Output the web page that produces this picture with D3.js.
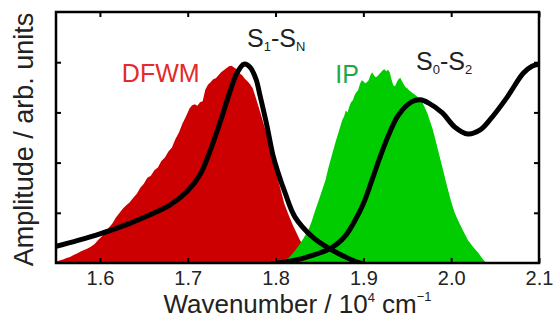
<!DOCTYPE html>
<html>
<head>
<meta charset="utf-8">
<script src="https://cdn.jsdelivr.net/npm/d3@7"></script>
<style>
  html, body { margin: 0; padding: 0; background: #fff; }
  svg { display: block; font-family: "Liberation Sans", Arial, sans-serif; }
</style>
</head>
<body>
<svg id="chart" width="558" height="320"></svg>
<script>
// Axis ticks
const xTickValues = [1.6, 1.7, 1.8, 1.9, 2.0, 2.1];
const yTickValues = [1, 2, 3, 4];

// DFWM spectrum (wavenumber in 10^4 cm^-1, amplitude in arb. units)
const dfwmWavenumber = [1.550,1.554,1.558,1.562,1.566,1.570,1.574,1.578,1.582,1.586,1.590,1.594,1.598,1.602,1.606,1.610,1.614,1.618,1.622,1.626,1.630,1.634,1.638,1.642,1.646,1.650,1.654,1.658,1.662,1.666,1.670,1.674,1.678,1.682,1.686,1.690,1.694,1.698,1.702,1.705,1.708,1.711,1.714,1.717,1.720,1.723,1.726,1.729,1.732,1.735,1.738,1.741,1.744,1.747,1.750,1.753,1.756,1.759,1.762,1.765,1.768,1.771,1.774,1.777,1.780,1.783,1.786,1.790,1.794,1.798,1.802,1.806,1.810,1.815,1.820,1.828,1.839,1.851,1.855];
const dfwmAmplitude  = [0.03,0.05,0.07,0.10,0.12,0.16,0.19,0.23,0.26,0.29,0.33,0.38,0.46,0.53,0.60,0.70,0.78,0.90,0.99,1.08,1.15,1.21,1.30,1.38,1.50,1.58,1.70,1.74,1.85,1.90,2.03,2.10,2.22,2.30,2.47,2.60,2.78,2.92,3.08,3.14,3.16,3.13,3.20,3.22,3.45,3.55,3.60,3.66,3.68,3.74,3.80,3.84,3.88,3.92,3.93,3.89,3.86,3.78,3.74,3.67,3.62,3.56,3.48,3.32,3.15,2.98,2.80,2.56,2.32,2.05,1.72,1.45,1.18,0.95,0.74,0.45,0.18,0.03,0.00];

// IP spectrum
const ipWavenumber = [1.800,1.805,1.811,1.816,1.821,1.826,1.831,1.837,1.841,1.845,1.849,1.853,1.857,1.860,1.864,1.868,1.872,1.876,1.878,1.880,1.882,1.884,1.886,1.888,1.890,1.892,1.894,1.896,1.898,1.900,1.902,1.904,1.906,1.908,1.910,1.912,1.914,1.916,1.918,1.920,1.922,1.924,1.926,1.928,1.930,1.932,1.934,1.936,1.938,1.940,1.942,1.944,1.946,1.948,1.950,1.952,1.955,1.958,1.961,1.964,1.967,1.970,1.973,1.976,1.979,1.982,1.985,1.988,1.991,1.994,1.997,2.000,2.004,2.008,2.013,2.019,2.025,2.031,2.035,2.039,2.042];
const ipAmplitude  = [0.00,0.02,0.06,0.12,0.22,0.34,0.47,0.64,0.82,1.04,1.24,1.45,1.66,1.88,2.14,2.39,2.62,2.85,2.92,3.04,3.00,3.12,3.20,3.24,3.34,3.40,3.44,3.56,3.64,3.62,3.58,3.60,3.64,3.74,3.80,3.74,3.70,3.72,3.76,3.80,3.84,3.86,3.82,3.85,3.80,3.66,3.54,3.52,3.60,3.66,3.69,3.62,3.56,3.50,3.48,3.44,3.40,3.36,3.32,3.26,3.20,3.10,2.98,2.82,2.66,2.46,2.25,2.04,1.84,1.62,1.42,1.22,1.00,0.84,0.66,0.46,0.32,0.20,0.10,0.02,0.00];

// S1-SN excited-state absorption
const s1snWavenumber = [1.550,1.575,1.600,1.612,1.634,1.657,1.680,1.699,1.714,1.725,1.737,1.748,1.756,1.764,1.771,1.778,1.782,1.790,1.797,1.802,1.811,1.822,1.842,1.860,1.887,1.900];
const s1snAmplitude  = [0.33,0.45,0.58,0.65,0.79,0.96,1.16,1.42,1.76,2.21,2.81,3.41,3.78,3.96,3.90,3.65,3.36,2.75,2.15,1.85,1.39,0.92,0.52,0.30,0.06,-0.02];

// S0-S2 ground-state absorption
const s0s2Wavenumber = [1.795,1.810,1.826,1.842,1.860,1.870,1.880,1.890,1.900,1.910,1.920,1.930,1.940,1.955,1.965,1.974,1.990,2.004,2.019,2.033,2.044,2.064,2.082,2.092,2.100];
const s0s2Amplitude  = [-0.02,0.02,0.07,0.15,0.27,0.38,0.55,0.83,1.18,1.66,2.16,2.60,2.95,3.21,3.25,3.19,2.99,2.71,2.57,2.65,2.85,3.31,3.78,3.92,3.96];

const svg = d3.select("#chart");
const margin = { left: 56, right: 19, top: 12, bottom: 57 };
const W = 558, H = 320;
const x = d3.scaleLinear().domain([1.55, 2.1]).range([margin.left, W - margin.right]);
const y = d3.scaleLinear().domain([0, 5]).range([H - margin.bottom, margin.top]);

svg.append("defs").append("clipPath").attr("id", "plot-clip")
  .append("rect")
  .attr("x", x.range()[0]).attr("y", y.range()[1])
  .attr("width", x.range()[1] - x.range()[0])
  .attr("height", y.range()[0] - y.range()[1]);

const plot = svg.append("g").attr("clip-path", "url(#plot-clip)");

const zip = (xs, ys) => xs.map((v, i) => [v, ys[i]]);

const area = d3.area()
  .x(d => x(d[0]))
  .y0(y(0))
  .y1(d => y(d[1]));

plot.append("path")
  .datum(zip(dfwmWavenumber, dfwmAmplitude))
  .attr("fill", "#cc0000")
  .attr("d", area);

plot.append("path")
  .datum(zip(ipWavenumber, ipAmplitude))
  .attr("fill", "#00cc00")
  .attr("d", area);

const line = d3.line()
  .x(d => x(d[0]))
  .y(d => y(d[1]))
  .curve(d3.curveCatmullRom.alpha(0.5));

[[s1snWavenumber, s1snAmplitude], [s0s2Wavenumber, s0s2Amplitude]].forEach(([xs, ys]) => {
  plot.append("path")
    .datum(zip(xs, ys))
    .attr("fill", "none")
    .attr("stroke", "#000")
    .attr("stroke-width", 5)
    .attr("stroke-linejoin", "round")
    .attr("d", line);
});

// Axes with inward ticks on all four sides
const tickLen = 5;
const bottomAxis = svg.append("g")
  .attr("transform", `translate(0,${y(0)})`)
  .call(d3.axisBottom(x).tickValues(xTickValues).tickSizeInner(-tickLen).tickSizeOuter(0).tickPadding(8)
    .tickFormat(d3.format(".1f")));
const topAxis = svg.append("g")
  .attr("transform", `translate(0,${y(5)})`)
  .call(d3.axisTop(x).tickValues(xTickValues).tickSizeInner(-tickLen).tickSizeOuter(0).tickFormat(""));
const leftAxis = svg.append("g")
  .attr("transform", `translate(${x(1.55)},0)`)
  .call(d3.axisLeft(y).tickValues(yTickValues).tickSizeInner(-tickLen).tickSizeOuter(0).tickFormat(""));
const rightAxis = svg.append("g")
  .attr("transform", `translate(${x(2.1)},0)`)
  .call(d3.axisRight(y).tickValues(yTickValues).tickSizeInner(-tickLen).tickSizeOuter(0).tickFormat(""));

[bottomAxis, topAxis, leftAxis, rightAxis].forEach(g => {
  g.select(".domain").remove();
  g.selectAll(".tick line").attr("stroke", "#000").attr("stroke-width", 2);
});
bottomAxis.selectAll(".tick text")
  .attr("fill", "#222")
  .attr("font-size", 20)
  .attr("font-family", "Liberation Sans, Arial, sans-serif");

// Frame
svg.append("rect")
  .attr("x", x(1.55)).attr("y", y(5))
  .attr("width", x(2.1) - x(1.55))
  .attr("height", y(0) - y(5))
  .attr("fill", "none")
  .attr("stroke", "#000")
  .attr("stroke-width", 2.5);

// Axis titles
const xTitle = svg.append("text")
  .attr("x", (x.range()[0] + x.range()[1]) / 2)
  .attr("y", 313)
  .attr("text-anchor", "middle")
  .attr("font-size", 26)
  .attr("fill", "#222");
xTitle.append("tspan").text("Wavenumber / 10");
xTitle.append("tspan").attr("dy", -11).attr("font-size", 13).text("4");
xTitle.append("tspan").attr("dy", 11).text(" cm");
xTitle.append("tspan").attr("dy", -12).attr("font-size", 13).text("\u22121");

svg.append("text")
  .attr("transform", `translate(33,${(y.range()[0] + y.range()[1]) / 2 + 2}) rotate(-90)`)
  .attr("text-anchor", "middle")
  .attr("font-size", 27)
  .attr("fill", "#222")
  .text("Amplitude / arb. units");

// Band labels
svg.append("text")
  .attr("x", x(1.625)).attr("y", 82)
  .attr("font-size", 25)
  .attr("fill", "#e42a2a")
  .text("DFWM");

svg.append("text")
  .attr("x", x(1.868)).attr("y", 83)
  .attr("font-size", 25)
  .attr("fill", "#1fa84a")
  .text("IP");

function stateLabel(px, py, a, subA, b, subB) {
  const t = svg.append("text")
    .attr("x", px).attr("y", py)
    .attr("font-size", 25)
    .attr("fill", "#222");
  t.append("tspan").text(a);
  t.append("tspan").attr("dy", 4).attr("font-size", 13).text(subA);
  t.append("tspan").attr("dy", -4).text("-" + b);
  t.append("tspan").attr("dy", 4).attr("font-size", 13).text(subB);
}
stateLabel(x(1.7675), 47, "S", "1", "S", "N");
stateLabel(x(1.96), 70, "S", "0", "S", "2");
</script>
</body>
</html>
